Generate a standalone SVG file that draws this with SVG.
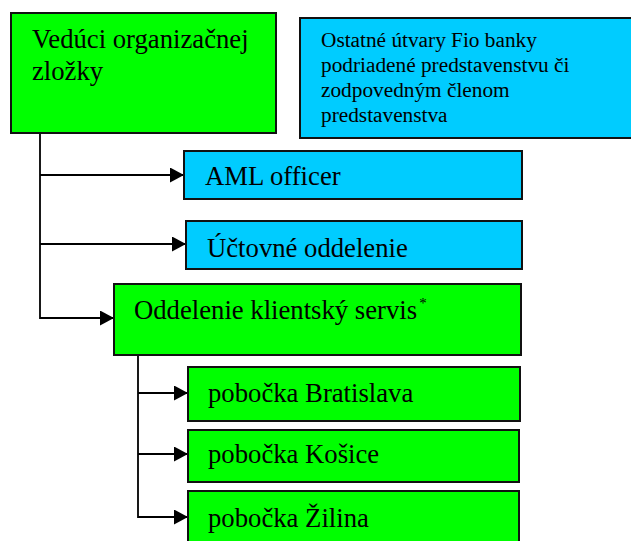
<svg xmlns="http://www.w3.org/2000/svg" width="631" height="541" viewBox="0 0 631 541">
<style>
  .g{fill:#00ff00;stroke:#111;stroke-width:2}
  .b{fill:#00ccff;stroke:#111;stroke-width:2}
  .t{font-family:"Liberation Serif","Times New Roman",serif;font-size:26.7px;fill:#000}
  .s{font-family:"Liberation Serif","Times New Roman",serif;font-size:21.3px;fill:#000}
  .c{fill:none;stroke:#000;stroke-width:1.8}
</style>
<defs>
  <marker id="ah" markerUnits="userSpaceOnUse" markerWidth="16" markerHeight="16" refX="14" refY="7.5" orient="auto">
    <path d="M0 0 L14 7.5 L0 15 Z" fill="#000"/>
  </marker>
</defs>
<rect width="631" height="541" fill="#fff"/>
<g id="connectors">
  <path class="c" d="M40 133 V318 H114" marker-end="url(#ah)"/>
  <path class="c" d="M40 175 H184" marker-end="url(#ah)"/>
  <path class="c" d="M40 244 H186" marker-end="url(#ah)"/>
  <path class="c" d="M138 355 V517 H188" marker-end="url(#ah)"/>
  <path class="c" d="M138 393 H188" marker-end="url(#ah)"/>
  <path class="c" d="M138 454 H188" marker-end="url(#ah)"/>
</g>
<g id="veduci">
  <rect class="g" x="11" y="13" width="265" height="120"/>
  <text class="t" x="32" y="48">Vedúci organizačnej</text>
  <text class="t" x="32" y="80">zložky</text>
</g>
<g id="ostatne">
  <rect class="b" x="300" y="18" width="345" height="120"/>
  <text class="s" x="321" y="47">Ostatné útvary Fio banky</text>
  <text class="s" x="321" y="72">podriadené predstavenstvu či</text>
  <text class="s" x="321" y="97">zodpovedným členom</text>
  <text class="s" x="321" y="122">predstavenstva</text>
</g>
<g id="aml">
  <rect class="b" x="184" y="151" width="338" height="48"/>
  <text class="t" x="205" y="185">AML officer</text>
</g>
<g id="uctovne">
  <rect class="b" x="186" y="221" width="336" height="48"/>
  <text class="t" x="207" y="257">Účtovné oddelenie</text>
</g>
<g id="klientsky">
  <rect class="g" x="114" y="284" width="407" height="71"/>
  <text class="t" x="134" y="319">Oddelenie klientský servis<tspan font-size="15" dx="2" dy="-11">*</tspan></text>
</g>
<g id="bratislava">
  <rect class="g" x="188" y="367" width="332" height="54"/>
  <text class="t" x="208" y="402">pobočka Bratislava</text>
</g>
<g id="kosice">
  <rect class="g" x="188" y="430" width="331" height="52"/>
  <text class="t" x="208" y="463">pobočka Košice</text>
</g>
<g id="zilina">
  <rect class="g" x="188" y="491" width="331" height="60"/>
  <text class="t" x="208" y="527">pobočka Žilina</text>
</g>
</svg>
